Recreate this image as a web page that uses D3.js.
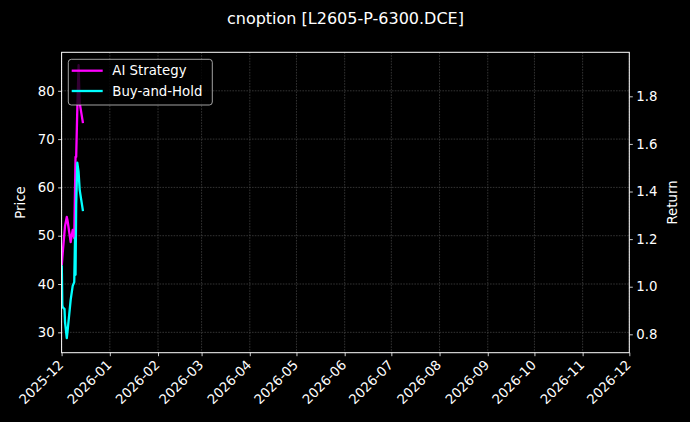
<!DOCTYPE html>
<html>
<head>
<meta charset="utf-8">
<script src="https://cdn.jsdelivr.net/npm/d3@7"></script>
<style>
  html, body { margin: 0; padding: 0; background: #000; }
  svg { display: block; font-family: "DejaVu Sans", sans-serif; }
</style>
</head>
<body>
<div class="plot"></div>
<script>
// data
var times = [
    "2025-12-01T03:00", "2025-12-01T11:00", "2025-12-01T18:00", "2025-12-02T21:00",
    "2025-12-03T05:00", "2025-12-04T08:00", "2025-12-04T19:00", "2025-12-06T20:00",
    "2025-12-08T03:00", "2025-12-09T03:00", "2025-12-09T15:00", "2025-12-09T23:00",
    "2025-12-10T09:00", "2025-12-11T02:00", "2025-12-11T22:00", "2025-12-12T15:00",
    "2025-12-14T18:00"
];
var aiStrategy = [43.9, 45.4, 46.6, 50.8, 52.0, 53.9, 53.2, 48.7,
                  51.2, 49.5, 59.4, 66.3, 66.3, 76.0, 85.3, 77.5, 73.3];
var buyHold = [43.9, 35.6, 35.2, 34.8, 32.1, 28.8, 30.1, 36.7,
               39.6, 40.4, 49.5, 41.9, 56.4, 65.1, 63.2, 59.5, 55.1];

var xTicks = ["2025-12", "2026-01", "2026-02", "2026-03", "2026-04", "2026-05", "2026-06",
              "2026-07", "2026-08", "2026-09", "2026-10", "2026-11", "2026-12"];
var priceTicks = [30, 40, 50, 60, 70, 80];
var returnTicks = [0.8, 1.0, 1.2, 1.4, 1.6, 1.8];
var priceDomain = [25.78, 87.97];
var returnDomain = [0.7227, 1.985];
var series = [
    {name: "AI Strategy", values: aiStrategy, color: "#ff00ff"},
    {name: "Buy-and-Hold", values: buyHold, color: "#00ffff"}
];

var W = 690, H = 422;
var margin = {top: 52.3, right: 60.7, bottom: 69.3, left: 61.6},
    width = W - margin.left - margin.right,
    height = H - margin.top - margin.bottom;

var parseTime = d3.utcParse("%Y-%m-%dT%H:%M");
var parseMonth = d3.utcParse("%Y-%m");

var xScale = d3.scaleUtc()
    .domain([parseMonth(xTicks[0]), parseMonth(xTicks[xTicks.length - 1])])
    .range([0, width]);
var yLeft = d3.scaleLinear().domain(priceDomain).range([height, 0]);
var yRight = d3.scaleLinear().domain(returnDomain).range([height, 0]);

var svg = d3.select(".plot").append("svg")
    .attr("width", W)
    .attr("height", H)
    .style("background", "#000");

var g = svg.append("g")
    .attr("transform", "translate(" + margin.left + "," + margin.top + ")");

g.append("defs").append("clipPath").attr("id", "clip")
    .append("rect").attr("width", width).attr("height", height);

// grid
g.append("g").selectAll("line.vg")
    .data(xTicks).enter().append("line")
    .attr("x1", function(d) { return xScale(parseMonth(d)); })
    .attr("x2", function(d) { return xScale(parseMonth(d)); })
    .attr("y1", 0).attr("y2", height)
    .attr("stroke", "#555").attr("stroke-width", 0.6)
    .attr("stroke-dasharray", "1.6,1.2");
g.append("g").selectAll("line.hg")
    .data(priceTicks).enter().append("line")
    .attr("x1", 0).attr("x2", width)
    .attr("y1", function(d) { return yLeft(d); })
    .attr("y2", function(d) { return yLeft(d); })
    .attr("stroke", "#555").attr("stroke-width", 0.6)
    .attr("stroke-dasharray", "1.6,1.2");

// lines
var line = d3.line()
    .x(function(d, i) { return xScale(parseTime(times[i])); })
    .y(function(d) { return yLeft(d); });

g.append("g").attr("clip-path", "url(#clip)")
    .selectAll("path")
    .data(series).enter().append("path")
    .attr("d", function(s) { return line(s.values); })
    .attr("fill", "none")
    .attr("stroke", function(s) { return s.color; })
    .attr("stroke-width", 2.3)
    .attr("stroke-linejoin", "round");

// axes
var xAxis = d3.axisBottom(xScale)
    .tickValues(xTicks.map(parseMonth))
    .tickFormat(d3.utcFormat("%Y-%m"))
    .tickSize(3.5).tickPadding(3.5);
var leftAxis = d3.axisLeft(yLeft).tickValues(priceTicks).tickSize(3.5).tickPadding(3.5);
var rightAxis = d3.axisRight(yRight).tickValues(returnTicks)
    .tickFormat(d3.format(".1f")).tickSize(3.5).tickPadding(3.5);

var xg = g.append("g").attr("transform", "translate(0," + height + ")").call(xAxis);
xg.selectAll("text")
    .attr("text-anchor", "end")
    .attr("transform", "translate(-5,6) rotate(-45)")
    .attr("dy", "0.75em")
    .attr("y", 0).attr("x", 0);
g.append("g").call(leftAxis);
g.append("g").attr("transform", "translate(" + width + ",0)").call(rightAxis);

g.selectAll(".domain").remove();
g.selectAll(".tick line").attr("stroke", "#fff").attr("stroke-width", 0.8);
g.selectAll(".tick text").attr("fill", "#fff").style("font-size", "13.3px")
    .style("font-family", "DejaVu Sans");

// spines
g.append("rect")
    .attr("width", width).attr("height", height)
    .attr("fill", "none").attr("stroke", "#fff").attr("stroke-width", 1);

// labels
svg.append("text")
    .attr("x", margin.left + width / 2).attr("y", 24)
    .attr("text-anchor", "middle").attr("fill", "#fff")
    .style("font-size", "16px")
    .text("cnoption [L2605-P-6300.DCE]");
svg.append("text")
    .attr("transform", "translate(25," + (margin.top + height / 2) + ") rotate(-90)")
    .attr("text-anchor", "middle").attr("fill", "#fff")
    .style("font-size", "13.3px")
    .text("Price");
svg.append("text")
    .attr("transform", "translate(677," + (margin.top + height / 2) + ") rotate(-90)")
    .attr("text-anchor", "middle").attr("fill", "#fff")
    .style("font-size", "13.3px")
    .text("Return");

// legend
var legend = g.append("g").attr("transform", "translate(6.7,7)");
legend.append("rect")
    .attr("width", 144).attr("height", 45.7).attr("rx", 3)
    .attr("fill", "#000").attr("fill-opacity", 0.8)
    .attr("stroke", "#ccc").attr("stroke-width", 0.8);
var items = legend.selectAll("g.item")
    .data(series).enter().append("g")
    .attr("transform", function(d, i) { return "translate(0," + (11.4 + i * 20.3) + ")"; });
items.append("line")
    .attr("x1", 3.4).attr("x2", 34.4)
    .attr("stroke", function(d) { return d.color; })
    .attr("stroke-width", 2.3);
items.append("text")
    .attr("x", 44).attr("dy", "0.36em")
    .attr("fill", "#fff").style("font-size", "13.3px")
    .text(function(d) { return d.name; });
</script>
</body>
</html>
